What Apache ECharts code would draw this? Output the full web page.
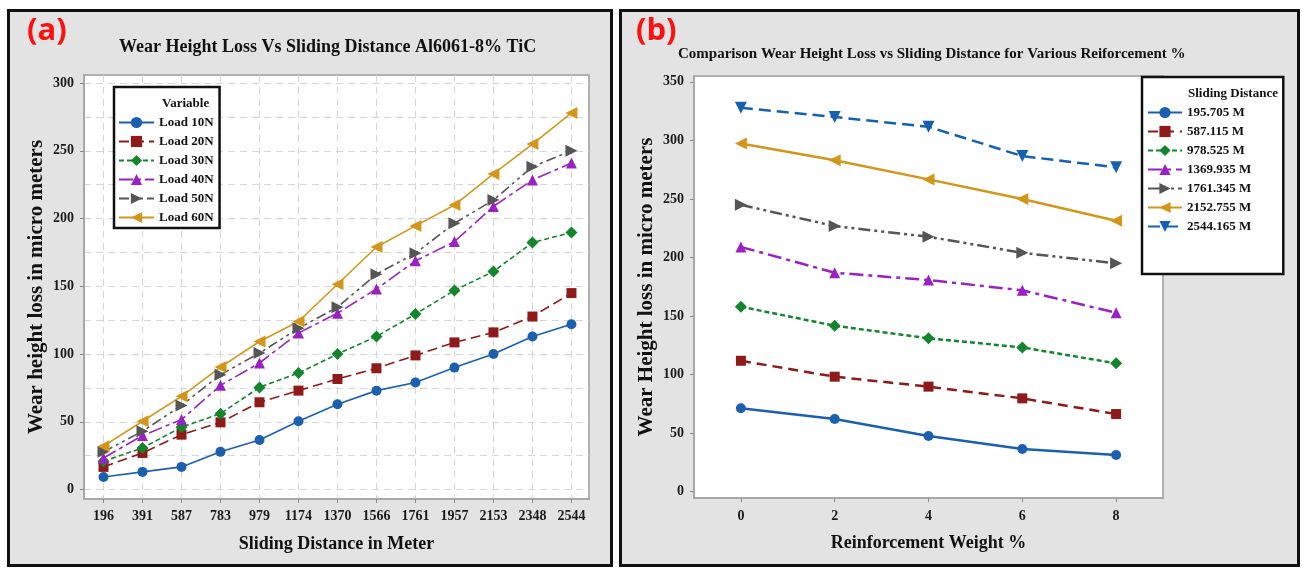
<!DOCTYPE html>
<html>
<head>
<meta charset="utf-8">
<script src="https://cdn.jsdelivr.net/npm/echarts@6/dist/echarts.min.js"></script>
<style>
html,body{margin:0;padding:0;background:#fff;}
#c{width:1302px;height:568px;}
</style>
</head>
<body>
<div id="c"></div>
<script>
// ---------- Panel (a) data ----------
const distCats = ['196','391','587','783','979','1174','1370','1566','1761','1957','2153','2348','2544'];
const loadNames = ['Load 10N','Load 20N','Load 30N','Load 40N','Load 50N','Load 60N'];
const load10 = [9.3,13,16.7,27.8,36.6,50.4,63,73,79,90,100,113,122];
const load20 = [16.7,27,40.5,49.6,64.4,73,81.6,89.5,99,108.6,116,127.7,145];
const load30 = [20.9,30.7,46,56,75.4,86,100,113,129.5,147,161,182.3,189.7];
const load40 = [23.3,39.8,51.6,76.9,93.4,115.5,130.2,148,168.8,183,209,228.5,241];
const load50 = [27.8,43,62,84.8,100.7,119,134.6,159,174.4,196.5,213.7,238.3,250];
const load60 = [32,50.4,68.8,90.4,109.3,124,151.5,179,194.6,210,233,255,278];
const yTicksA = [0,50,100,150,200,250,300];
const yGridA = [0,25,50,75,100,125,150,175,200,225,250,275,300];

// ---------- Panel (b) data ----------
const reinf = [0,2,4,6,8];
const distNames = ['195.705 M','587.115 M','978.525 M','1369.935 M','1761.345 M','2152.755 M','2544.165 M'];
const d195 = [71.2,62,47.5,36.5,31.3];
const d587 = [111.8,98.2,89.7,79.7,66.3];
const d978 = [158,141.7,131,123.2,109.6];
const d1369 = [209,187,180.7,172,152.8];
const d1761 = [245,226.8,217.7,204,195];
const d2152 = [297.4,283,266.7,250,231.4];
const d2544 = [327.8,320,311.6,286.6,277];
const yTicksB = [0,50,100,150,200,250,300,350];

const SERIF = "'Liberation Serif','Times New Roman',serif";
const C = {blue:'#1c5faf', red:'#8e1a1a', green:'#13862d', purple:'#9a22c2', gray:'#555555', gold:'#d4961a', blue2:'#1560b0'};

const chart = echarts.init(document.getElementById('c'));

const axisTxt = {fontFamily:SERIF, fontWeight:'bold', fontSize:14, color:'#1a1a1a'};
const nameTxt = {fontFamily:SERIF, fontWeight:'bold', fontSize:18, color:'#111'};
const yNameTxt = {fontFamily:SERIF, fontWeight:'bold', fontSize:21, color:'#111'};

function lineSer(name, xs, ys, color, dash, symbol, rot, gi, size, width) {
  return {
    name, type:'line', xAxisIndex:gi, yAxisIndex: gi===0?0:2,
    data: ys.map((v,i)=>[xs[i], v]),
    symbol, symbolSize:size, symbolRotate:rot,
    lineStyle:{color, width, type:dash},
    itemStyle:{color, borderWidth:0},
    showSymbol:true, animation:false, z:3
  };
}
const idxA = distCats.map((_,i)=>i);

const series = [
  lineSer(loadNames[0], idxA, load10, C.blue, 'solid', 'circle', 0, 0, 10, 1.6),
  lineSer(loadNames[1], idxA, load20, C.red, [10,5], 'rect', 0, 0, 10, 1.6),
  lineSer(loadNames[2], idxA, load30, C.green, [5,3], 'diamond', 0, 0, 12, 1.6),
  lineSer(loadNames[3], idxA, load40, C.purple, [14,4,4,4], 'triangle', 0, 0, 11, 1.6),
  lineSer(loadNames[4], idxA, load50, C.gray, [10,4,3,4,3,4], 'triangle', -90, 0, 12, 1.6),
  lineSer(loadNames[5], idxA, load60, C.gold, 'solid', 'triangle', 90, 0, 12, 1.6),
  lineSer(distNames[0], reinf, d195, C.blue, 'solid', 'circle', 0, 1, 10, 2.5),
  lineSer(distNames[1], reinf, d587, C.red, [10,6], 'rect', 0, 1, 10, 2.5),
  lineSer(distNames[2], reinf, d978, C.green, [5,3], 'diamond', 0, 1, 12, 2.5),
  lineSer(distNames[3], reinf, d1369, C.purple, [14,5,4,5], 'triangle', 0, 1, 11, 2.5),
  lineSer(distNames[4], reinf, d1761, C.gray, [12,4,3,4,3,4], 'triangle', -90, 1, 12, 2.5),
  lineSer(distNames[5], reinf, d2152, C.gold, 'solid', 'triangle', 90, 1, 12, 2.5),
  lineSer(distNames[6], reinf, d2544, C.blue2, [12,6], 'triangle', 180, 1, 12, 2.5)
];

const tickStyle = {show:true, length:4, inside:false, lineStyle:{color:'#8a8a8a', width:1}};
const axLine = {show:true, onZero:false, lineStyle:{color:'#a8a8a8', width:2}};

const option = {
  backgroundColor:'#ffffff',
  animation:false,
  graphic:[
    {type:'rect', z:-10, silent:true, shape:{x:8.5,y:10.5,width:603,height:555}, style:{fill:'#e3e3e3', stroke:'#111', lineWidth:3}},
    {type:'rect', z:-10, silent:true, shape:{x:620.5,y:10.5,width:678,height:555}, style:{fill:'#e3e3e3', stroke:'#111', lineWidth:3}}
  ],
  title:[
    {text:'(a)', left:27, top:16, padding:0, textStyle:{fontFamily:"'Open Sans',sans-serif", fontWeight:'bold', fontSize:31, color:'#ff1010'}},
    {text:'(b)', left:636, top:16, padding:0, textStyle:{fontFamily:"'Open Sans',sans-serif", fontWeight:'bold', fontSize:31, color:'#ff1010'}},
    {text:'Wear Height Loss Vs Sliding Distance Al6061-8% TiC', left:119, top:38, padding:0, textStyle:{fontFamily:SERIF, fontWeight:'bold', fontSize:18, color:'#111'}},
    {text:'Comparison Wear Height Loss vs Sliding Distance for Various Reiforcement %', left:678, top:47, padding:0, textStyle:{fontFamily:SERIF, fontWeight:'bold', fontSize:15, color:'#111'}},
    {text:'Variable', left:162, top:97, padding:0, z:10, textStyle:{fontFamily:SERIF, fontWeight:'bold', fontSize:13, color:'#111'}},
    {text:'Sliding Distance', left:1188, top:87, padding:0, z:10, textStyle:{fontFamily:SERIF, fontWeight:'bold', fontSize:13, color:'#111'}}
  ],
  grid:[
    {left:84, top:75, width:505, height:424, show:true, backgroundColor:'#ffffff', borderColor:'#b0b0b0', borderWidth:2, containLabel:false},
    {left:694, top:76, width:469, height:422, show:true, backgroundColor:'#ffffff', borderColor:'#b0b0b0', borderWidth:2, containLabel:false}
  ],
  xAxis:[
    {type:'value', gridIndex:0, min:-0.5, max:12.45,
     axisLine:axLine, axisTick:Object.assign({customValues:idxA}, tickStyle),
     axisLabel:Object.assign({customValues:idxA, margin:10, formatter:(v)=>distCats[Math.round(v)]}, axisTxt),
     splitLine:{show:true, lineStyle:{color:'#d6d6d6', type:[7,5], width:1}},
     name:'Sliding Distance in Meter', nameLocation:'middle', nameGap:36, nameTextStyle:nameTxt},
    {type:'value', gridIndex:1, min:-1, max:9,
     axisLine:axLine, axisTick:Object.assign({customValues:reinf}, tickStyle),
     axisLabel:Object.assign({customValues:reinf, margin:11}, axisTxt),
     splitLine:{show:false},
     name:'Reinforcement Weight %', nameLocation:'middle', nameGap:36, nameTextStyle:nameTxt}
  ],
  yAxis:[
    {type:'value', gridIndex:0, min:-7, max:306,
     axisLine:axLine, axisTick:Object.assign({customValues:yTicksA}, tickStyle),
     axisLabel:Object.assign({customValues:yTicksA, margin:10}, axisTxt),
     splitLine:{show:false},
     name:'Wear height loss in micro meters', nameLocation:'middle', nameGap:37, nameRotate:90, nameTextStyle:yNameTxt},
    {type:'value', gridIndex:0, min:-7, max:306, position:'left',
     axisLine:{show:false, onZero:false}, axisTick:{show:false, customValues:yGridA}, axisLabel:{show:false},
     splitLine:{show:true, lineStyle:{color:'#d6d6d6', type:[7,5], width:1}}},
    {type:'value', gridIndex:1, min:-5.4, max:355,
     axisLine:axLine, axisTick:Object.assign({customValues:yTicksB}, tickStyle),
     axisLabel:Object.assign({customValues:yTicksB, margin:10}, axisTxt),
     splitLine:{show:false},
     name:'Wear Height loss in micro meters', nameLocation:'middle', nameGap:37, nameRotate:90, nameTextStyle:yNameTxt}
  ],
  legend:[
    {data:loadNames, orient:'vertical', left:114, top:87, itemWidth:35, itemHeight:14, itemGap:6, itemTextGap:9,
     padding:[29,6,4,4], backgroundColor:'#ffffff', borderColor:'#111', borderWidth:2.5, borderRadius:0,
     textStyle:{fontFamily:SERIF, fontWeight:'bold', fontSize:13, color:'#111'}, selectedMode:false},
    {data:distNames, orient:'vertical', left:1142, top:77, itemWidth:34, itemHeight:14, itemGap:6, itemTextGap:9,
     padding:[29,32,41,5], backgroundColor:'#ffffff', borderColor:'#111', borderWidth:2.5, borderRadius:0,
     textStyle:{fontFamily:SERIF, fontWeight:'bold', fontSize:13, color:'#111'}, selectedMode:false}
  ],
  series
};
chart.setOption(option);
</script>
</body>
</html>
